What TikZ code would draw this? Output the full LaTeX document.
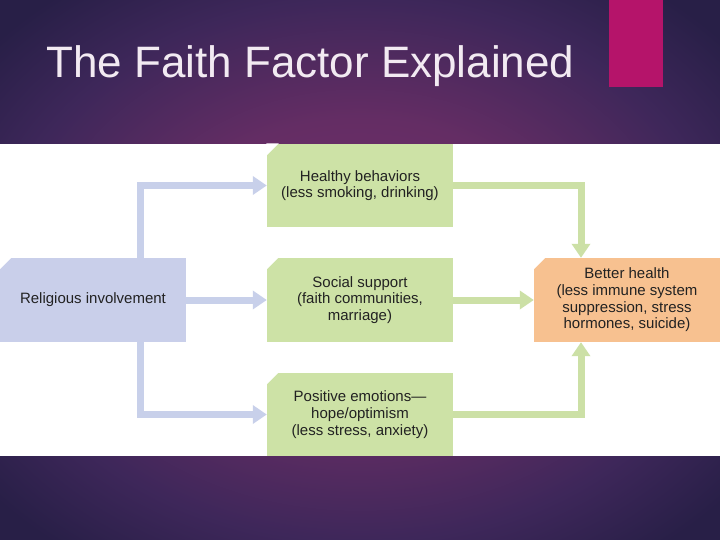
\documentclass[tikz,border=0pt]{standalone}
\usepackage{fontspec}
\setmainfont{Liberation Sans}
\usetikzlibrary{arrows.meta}
\definecolor{bgcenter}{HTML}{74306C}
\definecolor{bgmid}{HTML}{642D64}
\definecolor{bgouter}{HTML}{3E275A}
\definecolor{bgdark}{HTML}{281F47}
\definecolor{magentac}{HTML}{B5146A}
\definecolor{titlec}{HTML}{F2EAF2}
\definecolor{bluebox}{HTML}{C9CFEA}
\definecolor{greenbox}{HTML}{CDE2A6}
\definecolor{orangebox}{HTML}{F7C190}
\definecolor{blueline}{HTML}{C8D0EA}
\definecolor{greenline}{HTML}{CCE0A6}
\definecolor{textc}{HTML}{222222}
\pgfdeclareradialshading{bgshade}{\pgfpoint{0bp}{0bp}}{color(0bp)=(bgcenter); color(14bp)=(bgmid); color(25bp)=(bgouter); color(33bp)=(bgdark); color(50bp)=(bgdark)}
\tikzset{
  box/.style={rectangle, minimum width=186pt, inner sep=0pt, align=center, text=textc,
    font=\fontsize{15}{16.7}\selectfont},
  cut/.style={fill=white},
  bluearrow/.style={draw=blueline, line width=7pt, -{Triangle[width=18pt,length=14pt]}},
  greenarrow/.style={draw=greenline, line width=7pt, -{Triangle[width=18pt,length=14pt]}}
}
\begin{document}
\begin{tikzpicture}[x=1pt,y=-1pt]
\useasboundingbox (0,0) rectangle (720,540);
\shade[shading=bgshade] (0,0) rectangle (720,540);
\fill[white] (0,144) rectangle (720,456);
\fill[magentac] (609,0) rectangle (663,87);
\node[anchor=base west, inner sep=0pt, text=titlec, font=\fontsize{44}{50}\selectfont] (title) at (46,78) {The Faith Factor Explained};

\node[box, fill=greenbox, minimum height=83pt] (hb) at (360,185.5) {Healthy behaviors\\(less smoking, drinking)};
\node[box, fill=greenbox, minimum height=84pt] (ss) at (360,300) {Social support\\(faith communities,\\marriage)};
\node[box, fill=greenbox, minimum height=83pt] (pe) at (360,414.5) {Positive emotions---\\hope/optimism\\(less stress, anxiety)};
\node[box, fill=bluebox, minimum height=84pt] (rel) at (93,300) {Religious involvement};
\node[box, fill=orangebox, minimum height=84pt] (bh) at (627,300) {Better health\\(less immune system\\suppression, stress\\hormones, suicide)};

\foreach \n in {hb,ss,pe,rel,bh}{
  \fill[cut] ([xshift=-0.5pt,yshift=0.5pt]\n.north west) -- ++(12.5,0) -- ++(-12.5,12.5) -- cycle;
}

\draw[bluearrow] ([xshift=47pt]rel.north) |- (hb.west);
\draw[bluearrow] (rel.east) -- (ss.west);
\draw[bluearrow] ([xshift=47pt]rel.south) |- (pe.west);
\draw[greenarrow] (hb.east) -| ([xshift=-46pt]bh.north);
\draw[greenarrow] (ss.east) -- (bh.west);
\draw[greenarrow] (pe.east) -| ([xshift=-46pt]bh.south);
\end{tikzpicture}
\end{document}
